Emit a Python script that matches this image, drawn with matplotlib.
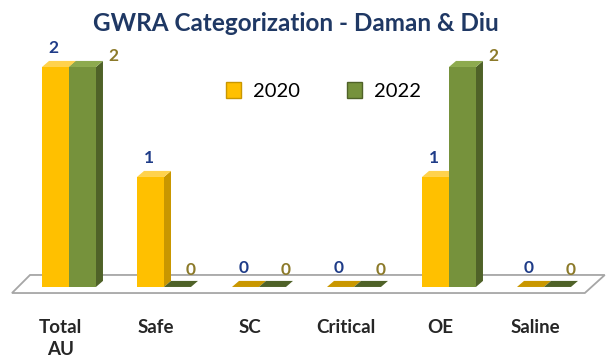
import matplotlib
matplotlib.use("Agg")
import matplotlib.pyplot as plt
from matplotlib.patches import Polygon, Patch

categories = ["Total\nAU", "Safe", "SC", "Critical", "OE", "Saline"]
series_names = ["2020", "2022"]
values_2020 = [2, 1, 0, 0, 1, 0]
values_2022 = [2, 0, 0, 0, 2, 0]

plt.rcParams["font.family"] = ["Lato", "DejaVu Sans"]

FRONT = {"2020": "#FFC000", "2022": "#76923C"}
SIDE = {"2020": "#C99700", "2022": "#4F6228"}
TOP = {"2020": "#FFD24D", "2022": "#8DAA4E"}
LABEL_COLOR = {"2020": "#1F3C88", "2022": "#8C7A2A"}

fig = plt.figure(figsize=(6.08, 3.6), dpi=100)
ax = fig.add_axes([0, 0, 1, 1])
ax.set_xlim(-0.726, 5.674)
ax.set_ylim(-0.664, 2.609)
ax.axis("off")

W = 0.284   # bar width
DX = 0.074  # depth offset in x
DY = 0.055  # depth offset in y

# floor slab
floor = Polygon([(-0.60, -0.055), (5.43, -0.055), (5.64, 0.109), (-0.41, 0.109)],
                closed=True, facecolor="white", edgecolor="#A6A6A6", lw=1.3, zorder=1)
ax.add_patch(floor)


def draw_bar(x0, v, name):
    if v > 0:
        ax.bar(x0, v, width=W, align="edge", color=FRONT[name], zorder=3, lw=0)
        side = Polygon([(x0 + W, 0), (x0 + W + DX, DY), (x0 + W + DX, v + DY), (x0 + W, v)],
                       closed=True, facecolor=SIDE[name], lw=0, zorder=2.9)
        ax.add_patch(side)
    top = Polygon([(x0, v), (x0 + W, v), (x0 + W + DX, v + DY), (x0 + DX, v + DY)],
                  closed=True, facecolor=TOP[name] if v > 0 else SIDE[name], lw=0, zorder=3)
    ax.add_patch(top)


for i, (a, b) in enumerate(zip(values_2020, values_2022)):
    draw_bar(i - W, a, "2020")
    draw_bar(i, b, "2022")
    # value labels
    ax.text(i - W / 2 - 0.02, a + 0.17, str(a), ha="center", va="center",
            fontsize=12.5, fontweight="bold", color=LABEL_COLOR["2020"], zorder=5)
    if b > 0:
        lx, ly = i + W / 2 + 0.33, b + 0.10
    else:
        lx, ly = i + W / 2 + 0.14, b + 0.15
    ax.text(lx, ly, str(b), ha="center", va="center",
            fontsize=12.5, fontweight="bold", color=LABEL_COLOR["2022"], zorder=5)
    # category labels
    ax.text(i - 0.09, -0.29, categories[i], ha="center", va="top",
            fontsize=13.5, fontweight="bold", color="#262626", linespacing=1.35)

fig.text(0.487, 0.935, "GWRA Categorization - Daman & Diu", ha="center", va="center",
         fontsize=17.5, fontweight="bold", color="#1F3864")

handles = [Patch(facecolor=FRONT[n], edgecolor=SIDE[n], label=n) for n in series_names]
fig.legend(handles=handles, loc="center", bbox_to_anchor=(0.532, 0.748), ncol=2,
           frameon=False, fontsize=14.5, handlelength=0.75, handleheight=0.85,
           columnspacing=2.3, handletextpad=0.6)

fig.savefig("out.png", dpi=100)
